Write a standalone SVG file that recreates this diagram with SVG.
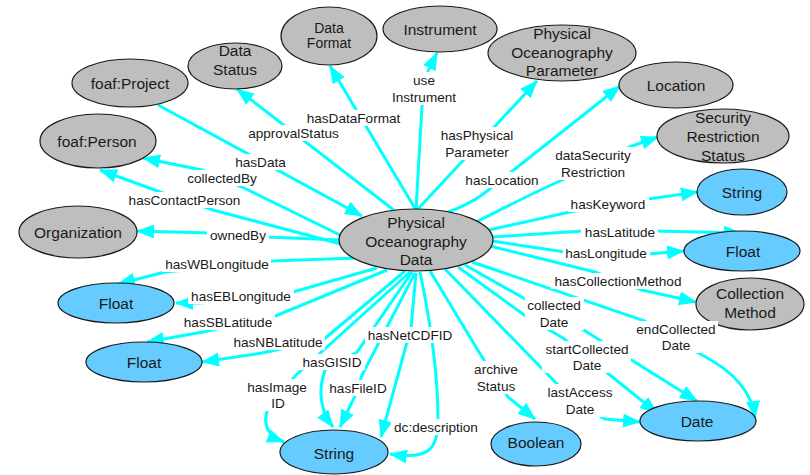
<svg xmlns="http://www.w3.org/2000/svg" width="810" height="475" viewBox="0 0 810 475">
<defs>
<marker id="arr" markerUnits="userSpaceOnUse" markerWidth="20" markerHeight="16" refX="17" refY="7" orient="auto">
<path d="M0,0 L18,7 L0,14 z" fill="#00FFFF"/>
</marker>
<style>
.e{fill:none;stroke:#00FFFF;stroke-width:3;marker-end:url(#arr)}
.g{fill:#BEBEBE;stroke:#1a1a1a;stroke-width:1.2}
.b{fill:#66CCFF;stroke:#1a1a1a;stroke-width:1.2}
.t{font-family:"Liberation Sans",Arial,sans-serif;font-size:15.5px;fill:#1a1a1a;text-anchor:middle}
.ts{font-family:"Liberation Sans",Arial,sans-serif;font-size:14px;fill:#1a1a1a;text-anchor:middle}
.l{font-family:"Liberation Sans",Arial,sans-serif;font-size:13.6px;fill:#1a1a1a;text-anchor:middle}
.bg{fill:#FFFFFF}
</style>
</defs>
<rect width="810" height="475" fill="#FFFFFF"/>
<g id="connectors">
<path class="e" d="M158,105 L362,216"/>
<path class="e" d="M395,211 L237,89"/>
<path class="e" d="M416,210 L330,66"/>
<path class="e" d="M416,210 L422,106 L428,71 L437,53"/>
<path class="e" d="M417,210 L537,81"/>
<path class="e" d="M446,213 C462,207 472,202 482,195 L620,86"/>
<path class="e" d="M476,222 C510,205 535,192 560,181 L632,146 L658,137"/>
<path class="e" d="M489,230 L570,212 L648,199 L698,192"/>
<path class="e" d="M493,237 L583,231 L655,231 L741,233"/>
<path class="e" d="M492,241 L565,252 L648,254 L684,251"/>
<path class="e" d="M490,246 L595,272 L642,290 L696,302"/>
<path class="e" d="M472,262 L645,321 L702,355 C735,372 752,392 755,418"/>
<path class="e" d="M465,265 L527,300 L582,329 L697,401"/>
<path class="e" d="M458,267 L527,317 L563,338 L610,375 L657,413"/>
<path class="e" d="M445,269 L555,382 L580,405 L605,419 L640,422"/>
<path class="e" d="M430,271 L482,357 L508,397 L535,419"/>
<path class="e" d="M340,240 L267,237 L210,233 L137,231"/>
<path class="e" d="M341,244 L213,210 L163,193 L100,170"/>
<path class="e" d="M342,236 L242,187 L202,170 L143,158"/>
<path class="e" d="M357,258 L272,261 L165,272 L118,284"/>
<path class="e" d="M377,268 L293,292 L200,303 L176,303"/>
<path class="e" d="M387,270 L273,317 L203,332 L147,342"/>
<path class="e" d="M405,271 L323,340 L262,353 L202,362"/>
<path class="e" d="M412,272 L357,352 L325,370 C318,390 320,410 333,427"/>
<path class="e" d="M410,272 L296,375 L268,408 C262,425 268,436 284,442"/>
<path class="e" d="M415,273 L362,375 L355,396 L340,427"/>
<path class="e" d="M416,273 L411,328 L407,342 L381,437"/>
<path class="e" d="M420,272 C430,320 438,370 438,420 C438,450 428,460 390,454"/>
</g>
<g id="n-center"><ellipse class="g" cx="416" cy="240" rx="77" ry="31"/><text class="t" x="416" y="227.5">Physical</text><text class="t" x="416" y="246.5">Oceanography</text><text class="t" x="416" y="264.5">Data</text></g>
<g id="n-project"><ellipse class="g" cx="130" cy="83" rx="58" ry="24"/><text class="t" x="130" y="88.5">foaf:Project</text></g>
<g id="n-person"><ellipse class="g" cx="98" cy="141" rx="58" ry="27"/><text class="t" x="97" y="146.5">foaf:Person</text></g>
<g id="n-org"><ellipse class="g" cx="78" cy="232" rx="59" ry="26"/><text class="t" x="78" y="237.5">Organization</text></g>
<g id="n-datastatus"><ellipse class="g" cx="235" cy="66" rx="47" ry="23"/><text class="t" x="235" y="55.5">Data</text><text class="t" x="235" y="74.5">Status</text></g>
<g id="n-dataformat"><ellipse class="g" cx="329" cy="36" rx="48" ry="29"/><text class="ts" x="329" y="33">Data</text><text class="ts" x="329" y="48">Format</text></g>
<g id="n-instrument"><ellipse class="g" cx="440" cy="29" rx="57" ry="23"/><text class="t" x="440" y="34.5">Instrument</text></g>
<g id="n-pop"><ellipse class="g" cx="562" cy="53" rx="74" ry="28"/><text class="t" x="562" y="38.5">Physical</text><text class="t" x="562" y="57.5">Oceanography</text><text class="t" x="562" y="75.5">Parameter</text></g>
<g id="n-location"><ellipse class="g" cx="676" cy="85" rx="57" ry="23"/><text class="t" x="676" y="90.5">Location</text></g>
<g id="n-security"><ellipse class="g" cx="723" cy="136" rx="66" ry="27"/><text class="t" x="723" y="122.5">Security</text><text class="t" x="723" y="141.5">Restriction</text><text class="t" x="723" y="160.5">Status</text></g>
<g id="n-string1"><ellipse class="b" cx="742" cy="192" rx="45" ry="23"/><text class="t" x="742" y="197.5">String</text></g>
<g id="n-float1"><ellipse class="b" cx="742" cy="251" rx="58" ry="20"/><text class="t" x="743" y="256.5">Float</text></g>
<g id="n-collection"><ellipse class="g" cx="750" cy="304" rx="54" ry="26"/><text class="t" x="750" y="298.5">Collection</text><text class="t" x="750" y="317.5">Method</text></g>
<g id="n-date"><ellipse class="b" cx="698" cy="421" rx="58" ry="20"/><text class="t" x="697" y="426.5">Date</text></g>
<g id="n-boolean"><ellipse class="b" cx="536" cy="444" rx="45" ry="22"/><text class="t" x="536" y="447.5">Boolean</text></g>
<g id="n-string2"><ellipse class="b" cx="334" cy="452" rx="54" ry="22"/><text class="t" x="334" y="458.5">String</text></g>
<g id="n-float2"><ellipse class="b" cx="116" cy="303" rx="58" ry="20"/><text class="t" x="116" y="308.5">Float</text></g>
<g id="n-float3"><ellipse class="b" cx="144" cy="362" rx="58" ry="20"/><text class="t" x="144" y="367.5">Float</text></g>
<g id="labels">
<rect class="bg" x="233" y="154" width="55" height="16"/><text class="l" x="260.5" y="167">hasData</text>
<rect class="bg" x="245" y="125" width="97" height="16"/><text class="l" x="293.5" y="138">approvalStatus</text>
<rect class="bg" x="304" y="110" width="99" height="16"/><text class="l" x="353.5" y="123">hasDataFormat</text>
<rect class="bg" x="390" y="72" width="69" height="33"/><text class="l" x="424" y="85">use</text><text class="l" x="424" y="102">Instrument</text>
<rect class="bg" x="438" y="127" width="77" height="33"/><text class="l" x="477" y="140">hasPhysical</text><text class="l" x="477" y="157">Parameter</text>
<rect class="bg" x="463" y="172" width="78" height="16"/><text class="l" x="502" y="185">hasLocation</text>
<rect class="bg" x="552" y="147" width="82" height="33"/><text class="l" x="593" y="160">dataSecurity</text><text class="l" x="593" y="177">Restriction</text>
<rect class="bg" x="568" y="196" width="81" height="16"/><text class="l" x="608" y="209">hasKeyword</text>
<rect class="bg" x="581" y="224" width="77" height="16"/><text class="l" x="620" y="237">hasLatitude</text>
<rect class="bg" x="563" y="245" width="87" height="16"/><text class="l" x="606" y="258">hasLongitude</text>
<rect class="bg" x="551" y="273" width="134" height="16"/><text class="l" x="618" y="286">hasCollectionMethod</text>
<rect class="bg" x="634" y="321" width="84" height="32"/><text class="l" x="676" y="334">endCollected</text><text class="l" x="676" y="350">Date</text>
<rect class="bg" x="525" y="297" width="59" height="33"/><text class="l" x="554" y="310">collected</text><text class="l" x="554" y="327">Date</text>
<rect class="bg" x="542" y="341" width="89" height="32"/><text class="l" x="587" y="354">startCollected</text><text class="l" x="587" y="370">Date</text>
<rect class="bg" x="545" y="384" width="70" height="33"/><text class="l" x="580" y="397">lastAccess</text><text class="l" x="580" y="414">Date</text>
<rect class="bg" x="471" y="361" width="50" height="33"/><text class="l" x="496" y="374">archive</text><text class="l" x="496" y="391">Status</text>
<rect class="bg" x="391" y="419" width="90" height="16"/><text class="l" x="436" y="432">dc:description</text>
<rect class="bg" x="365" y="327" width="90" height="16"/><text class="l" x="410" y="340">hasNetCDFID</text>
<rect class="bg" x="327" y="380" width="63" height="16"/><text class="l" x="358" y="393">hasFileID</text>
<rect class="bg" x="300" y="354" width="65" height="16"/><text class="l" x="332" y="367">hasGISID</text>
<rect class="bg" x="245" y="379" width="65" height="32"/><text class="l" x="277" y="392">hasImage</text><text class="l" x="278" y="408">ID</text>
<rect class="bg" x="231" y="334" width="94" height="16"/><text class="l" x="278" y="347">hasNBLatitude</text>
<rect class="bg" x="181" y="314" width="94" height="16"/><text class="l" x="228" y="327">hasSBLatitude</text>
<rect class="bg" x="188" y="288" width="106" height="16"/><text class="l" x="241" y="301">hasEBLongitude</text>
<rect class="bg" x="162" y="256" width="109" height="16"/><text class="l" x="217" y="269">hasWBLongitude</text>
<rect class="bg" x="207" y="227" width="62" height="16"/><text class="l" x="238" y="240">ownedBy</text>
<rect class="bg" x="126" y="192" width="117" height="16"/><text class="l" x="184.5" y="205">hasContactPerson</text>
<rect class="bg" x="185" y="170" width="74" height="16"/><text class="l" x="222" y="183">collectedBy</text>
</g>
</svg>
